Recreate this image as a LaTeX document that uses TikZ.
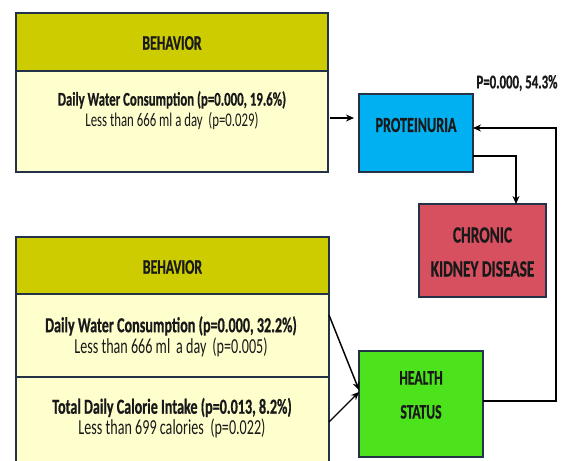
\documentclass[tikz,border=0pt]{standalone}
\usepackage{fontspec}
\setmainfont{Carlito}[FakeStretch=0.66, BoldFeatures={FakeBold=0.6}]
\usetikzlibrary{calc,arrows.meta}
\definecolor{hdrc}{RGB}{204,204,0}
\definecolor{bodyc}{RGB}{255,255,206}
\definecolor{protc}{RGB}{0,176,240}
\definecolor{ckdc}{RGB}{214,80,96}
\definecolor{hsc}{RGB}{76,227,28}
\definecolor{edgec}{RGB}{35,50,70}
\definecolor{txtc}{RGB}{25,25,25}
\begin{document}
\begin{tikzpicture}[x=1pt,y=-1pt,
  box/.style={draw=edgec, line width=1.5pt, rectangle, inner sep=0pt, outer sep=0pt},
  lbl/.style={text=txtc, inner sep=0pt, align=center},
  conn/.style={-{Stealth[length=8pt,width=7pt]}, line width=1.4pt, black}
]
\fill[white] (0,0) rectangle (563,461);
\clip (0,0) rectangle (563,461);
% top behaviour box
\node[box, fill=hdrc, minimum width=312pt, minimum height=58pt] (th) at (172,42) {};
\node[box, fill=bodyc, minimum width=312pt, minimum height=101pt] (tb) at (172,121.5) {};
\node[lbl, font=\fontsize{20.7}{21}\selectfont\bfseries] (tht) at (172,43) {BEHAVIOR};
\node[lbl, font=\fontsize{19.4}{21}\selectfont] (tbt) at (172,110.5) {{\bfseries Daily Water Consumption (p=0.000, 19.6\%)}\\Less than 666 ml a day\ \ (p=0.029)};
% bottom behaviour box
\node[box, fill=hdrc, minimum width=313pt, minimum height=57pt] (bh) at (172.5,265.5) {};
\node[box, fill=bodyc, minimum width=313pt, minimum height=83pt] (b1) at (172.5,335.5) {};
\node[box, fill=bodyc, minimum width=313pt, minimum height=93pt] (b2) at (172.5,423.5) {};
\node[lbl, font=\fontsize{20.7}{21}\selectfont\bfseries] (bht) at (172.5,267) {BEHAVIOR};
\node[lbl, font=\fontsize{21.4}{21}\selectfont] (b1t) at (171,336.5) {{\bfseries Daily Water Consumption (p=0.000, 32.2\%)}\\Less than 666 ml\;a day\;(p=0.005)};
\node[lbl, font=\fontsize{21.4}{21}\selectfont] (b2t) at (172,418) {{\bfseries Total Daily Calorie Intake (p=0.013, 8.2\%)}\\Less than 699 calories\ \ (p=0.022)};
% outcome boxes
\node[box, fill=protc, minimum width=114pt, minimum height=78pt] (prot) at (416,133) {};
\node[lbl, font=\fontsize{21.4}{34}\selectfont\bfseries] (prott) at (416,125) {PROTEINURIA};
\node[box, fill=ckdc, minimum width=127pt, minimum height=93pt] (ckd) at (482.5,250.5) {};
\node[lbl, font=\fontsize{23.3}{34}\selectfont\bfseries] (ckdt) at (482.5,252) {CHRONIC\\KIDNEY DISEASE};
\node[box, fill=hsc, minimum width=124pt, minimum height=106pt] (hs) at (421,404) {};
\node[lbl, font=\fontsize{20.6}{34}\selectfont\bfseries] (hst) at (421,395) {HEALTH\\STATUS};
\node[lbl, font=\fontsize{19.4}{21}\selectfont\bfseries] (pl) at (517,83) {P=0.000, 54.3\%};
% connectors
\coordinate (fbx) at (556,0);
\coordinate (h1) at ($(hs.east)+(0,-3)$);
\coordinate (p1) at ($(prot.east)+(0,-5)$);
\coordinate (p2) at ($(prot.east)+(0,23)$);
\coordinate (c1) at ($(ckd.north)+(33.5,0)$);
\coordinate (t1) at ($(tb.north east)+(0,47)$);
\coordinate (b1e) at ($(b1.north east)+(0,21)$);
\coordinate (b2e) at ($(b2.north east)+(0,45)$);
\draw[conn, shorten <=2pt, shorten >=5pt] (t1) -- (prot.west |- t1);
\draw[conn] (p2) -| (c1);
\draw[conn] (h1) -- (h1 -| fbx) -- (fbx |- p1) -- (p1);
\draw[conn] (b1e) -- ($(hs.west)+(0,-14)$);
\draw[conn] (b2e) -- ($(hs.west)+(0,-12)$);
\end{tikzpicture}
\end{document}
